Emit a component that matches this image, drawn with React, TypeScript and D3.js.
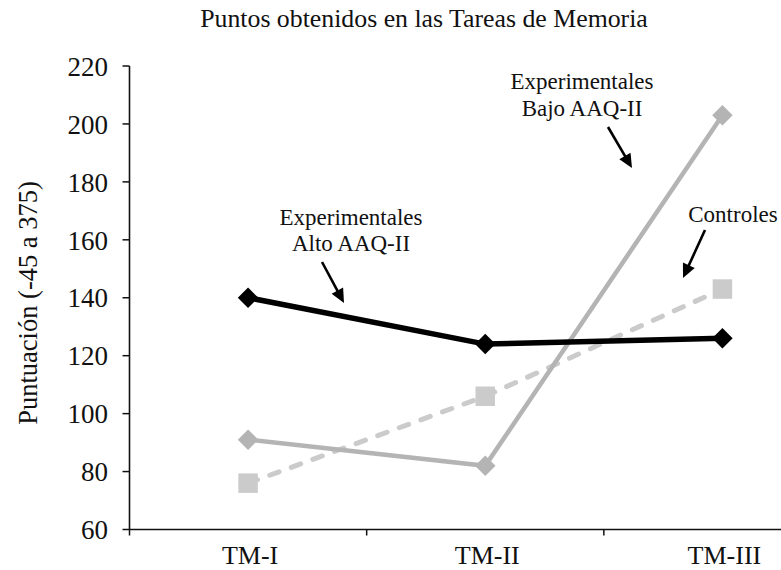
import React from "react";
import * as d3 from "d3";

const categories = ["TM-I", "TM-II", "TM-III"];
const altoValues = [140, 124, 126];
const bajoValues = [91, 82, 203];
const controlValues = [76, 106, 143];
const yTicks = [60, 80, 100, 120, 140, 160, 180, 200, 220];

const W = 781;
const H = 570;
const FONT = '"Liberation Serif", "Times New Roman", Times, serif';

type Ann = { lines: string[]; x: number; y: number; lh: number; from: [number, number]; to: [number, number] };
const annotations: Ann[] = [
  { lines: ["Experimentales", "Alto AAQ-II"], x: 351, y: 225, lh: 26, from: [322, 262], to: [344, 303] },
  { lines: ["Experimentales", "Bajo AAQ-II"], x: 582, y: 89, lh: 27, from: [608, 127], to: [632, 168] },
  { lines: ["Controles"], x: 733, y: 222, lh: 26, from: [705, 230], to: [683, 278] },
];

const textStyle: React.CSSProperties = { fontFamily: FONT };

function Arrow({ from, to }: { from: [number, number]; to: [number, number] }) {
  const dx = to[0] - from[0];
  const dy = to[1] - from[1];
  const len = Math.hypot(dx, dy);
  const ux = dx / len, uy = dy / len;
  const hl = 14, hw = 6.5;
  const bx = to[0] - ux * hl, by = to[1] - uy * hl;
  const pts = [
    [to[0], to[1]],
    [bx - uy * hw, by + ux * hw],
    [bx + uy * hw, by - ux * hw],
  ];
  return (
    <g>
      <line x1={from[0]} y1={from[1]} x2={bx + ux * 2} y2={by + uy * 2} stroke="#000" strokeWidth={2.6} />
      <polygon points={pts.map((p) => p.join(",")).join(" ")} fill="#000" />
    </g>
  );
}

export default function App() {
  const x = d3.scaleBand<string>().domain(categories).range([129.5, 841]).padding(0);
  const y = d3.scaleLinear().domain([60, 220]).range([529.5, 66]);
  const cx = (c: string) => (x(c) as number) + x.bandwidth() / 2;
  const line = d3
    .line<number>()
    .x((_, i) => cx(categories[i]))
    .y((d) => y(d));
  const diamond = d3.symbol(d3.symbolSquare, 210)();
  const square = d3.symbol(d3.symbolSquare, 380)();
  const x0 = 129.5;
  const yBase = y(60);

  return (
    <svg width={W} height={H} style={{ position: "absolute", left: 0, top: 0, background: "#fff", fontFamily: FONT }}>
      <rect width={W} height={H} fill="#fff" />
      <text x={424} y={27} textAnchor="middle" fontSize={25.8} fill="#111" style={textStyle}>
        Puntos obtenidos en las Tareas de Memoria
      </text>

      {/* axes */}
      <line x1={x0} y1={y(220)} x2={x0} y2={yBase} stroke="#111" strokeWidth={1.6} />
      <line x1={x0} y1={yBase} x2={W} y2={yBase} stroke="#111" strokeWidth={1.6} />
      {yTicks.map((t) => (
        <g key={t}>
          <line x1={x0 - 7} x2={x0} y1={y(t)} y2={y(t)} stroke="#111" strokeWidth={1.5} />
          <text x={108} y={y(t)} dy="0.36em" textAnchor="end" fontSize={27} fill="#111" style={textStyle}>
            {t}
          </text>
        </g>
      ))}
      {categories.map((c) => (
        <g key={c}>
          <line x1={x(c) as number} x2={x(c) as number} y1={yBase} y2={yBase + 6} stroke="#111" strokeWidth={1.5} />
          <text x={cx(c) + 2} y={564} textAnchor="middle" fontSize={26} fill="#111" style={textStyle}>
            {c}
          </text>
        </g>
      ))}
      <text
        transform={`translate(37, 303) rotate(-90)`}
        textAnchor="middle"
        fontSize={26.5}
        fill="#111"
        style={textStyle}
      >
        Puntuación (-45 a 375)
      </text>

      {/* Controles */}
      <path d={line(controlValues) as string} fill="none" stroke="#cbcbcb" strokeWidth={5} strokeDasharray="10,13" strokeLinecap="round" />
      {controlValues.map((v, i) => (
        <path key={i} d={square as string} transform={`translate(${cx(categories[i])},${y(v)})`} fill="#cbcbcb" />
      ))}

      {/* Bajo */}
      <path d={line(bajoValues) as string} fill="none" stroke="#b4b4b4" strokeWidth={4.5} />
      {bajoValues.map((v, i) => (
        <path key={i} d={diamond as string} transform={`translate(${cx(categories[i])},${y(v)}) rotate(45)`} fill="#b4b4b4" />
      ))}

      {/* Alto */}
      <path d={line(altoValues) as string} fill="none" stroke="#000" strokeWidth={5.5} />
      {altoValues.map((v, i) => (
        <path key={i} d={diamond as string} transform={`translate(${cx(categories[i])},${y(v)}) rotate(45)`} fill="#000" />
      ))}

      {annotations.map((a, i) => (
        <g key={i}>
          {a.lines.map((l, j) => (
            <text key={j} x={a.x} y={a.y + j * a.lh} textAnchor="middle" fontSize={23} fill="#111" style={textStyle}>
              {l}
            </text>
          ))}
          <Arrow from={a.from} to={a.to} />
        </g>
      ))}
    </svg>
  );
}
